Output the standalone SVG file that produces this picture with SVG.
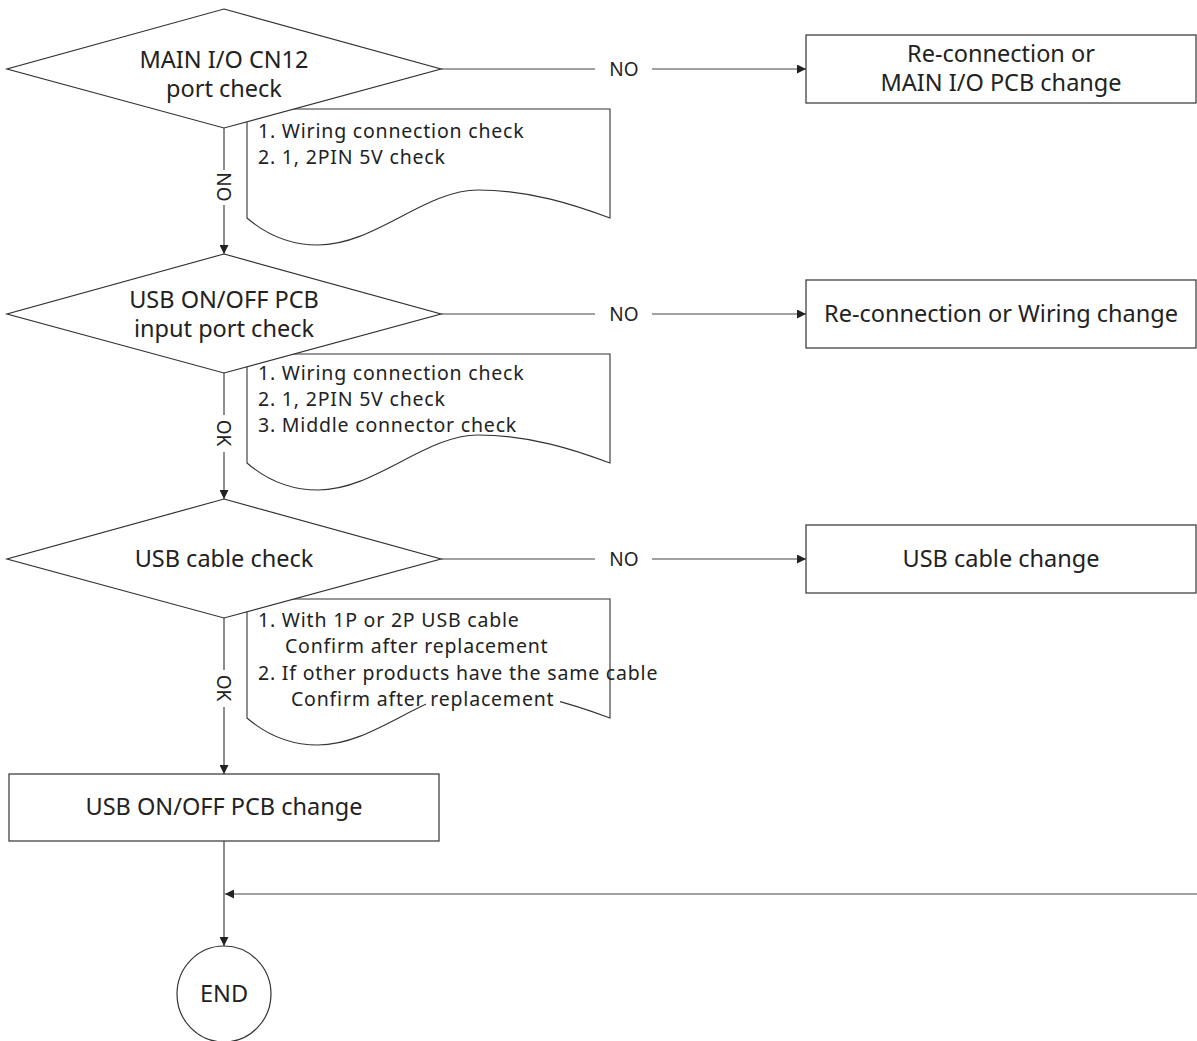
<svg xmlns="http://www.w3.org/2000/svg" width="1197" height="1041" viewBox="0 0 1197 1041">
<style>
.shape{fill:#fff;stroke:#333;stroke-width:1.2}
.doc{fill:#fff;stroke:#333;stroke-width:1.1}
.ln{fill:none;stroke:#444;stroke-width:1.2}
text{font-family:"Noto Sans","Open Sans","DejaVu Sans",sans-serif;fill:#222}
.t{font-size:23.5px;text-anchor:middle}
.d{font-size:19.5px;letter-spacing:0.8px}
.lb{font-size:19px;text-anchor:middle}
</style>
<defs>
<marker id="ah" viewBox="0 0 10 10" refX="10" refY="5" markerWidth="9" markerHeight="9" markerUnits="userSpaceOnUse" orient="auto">
<path d="M0,0 L10,5 L0,10 Z" fill="#222"/>
</marker>
</defs>
<rect width="1197" height="1041" fill="#fff"/>

<g id="connectors">
<path class="ln" d="M441,69 H595 M652,69 H806" marker-end="url(#ah)"/>
<path class="ln" d="M441,314 H595 M652,314 H806" marker-end="url(#ah)"/>
<path class="ln" d="M441,559 H595 M652,559 H806" marker-end="url(#ah)"/>
<path class="ln" d="M224,128 V170 M224,205 V254" marker-end="url(#ah)"/>
<path class="ln" d="M224,373 V415 M224,452 V499" marker-end="url(#ah)"/>
<path class="ln" d="M224,618 V670 M224,707 V774" marker-end="url(#ah)"/>
<path class="ln" d="M224,841 V946" marker-end="url(#ah)"/>
<path class="ln" d="M1197,894 H225" marker-end="url(#ah)"/>
<text class="lb" x="624" y="76">NO</text>
<text class="lb" x="624" y="321">NO</text>
<text class="lb" x="624" y="566">NO</text>
<text class="lb" transform="translate(224,187) rotate(90)" y="7">NO</text>
<text class="lb" transform="translate(224,433) rotate(90)" y="7">OK</text>
<text class="lb" transform="translate(224,688) rotate(90)" y="7">OK</text>
</g>

<g id="doc1">
<path class="doc" d="M247,218 V109 H610 V218 C575,205 530,190 478,190 C425,190 375,245 318,245 C292,245 268,236 247,218 Z"/>
<text class="d" x="258" y="138">1. Wiring connection check</text>
<text class="d" x="258" y="164">2. 1, 2PIN 5V check</text>
</g>

<g id="doc2">
<path class="doc" d="M247,463 V354 H610 V463 C575,450 530,435 478,435 C425,435 375,490 318,490 C292,490 268,481 247,463 Z"/>
<text class="d" x="258" y="380">1. Wiring connection check</text>
<text class="d" x="258" y="406">2. 1, 2PIN 5V check</text>
<text class="d" x="258" y="432">3. Middle connector check</text>
</g>

<g id="doc3">
<path class="doc" d="M247,718 V599 H610 V718 C575,705 530,690 478,690 C425,690 375,745 318,745 C292,745 268,736 247,718 Z"/>
<rect x="426" y="686" width="134" height="28" fill="#fff"/>
<text class="d" x="258" y="627">1. With 1P or 2P USB cable</text>
<text class="d" x="285" y="653">Confirm after replacement</text>
<text class="d" x="258" y="680">2. If other products have the same cable</text>
<text class="d" x="291" y="706">Confirm after replacement</text>
</g>

<g id="decision1">
<polygon class="shape" points="224,9 441,69 224,128 7,69"/>
<text class="t" x="224" y="68">MAIN I/O CN12</text>
<text class="t" x="224" y="97">port check</text>
</g>

<g id="decision2">
<polygon class="shape" points="224,254 441,314 224,373 7,314"/>
<text class="t" x="224" y="308">USB ON/OFF PCB</text>
<text class="t" x="224" y="337">input port check</text>
</g>

<g id="decision3">
<polygon class="shape" points="224,499 441,559 224,618 7,559"/>
<text class="t" x="224" y="567">USB cable check</text>
</g>

<g id="box1">
<rect class="shape" x="806" y="35" width="390" height="68"/>
<text class="t" x="1001" y="62">Re-connection or</text>
<text class="t" x="1001" y="91">MAIN I/O PCB change</text>
</g>

<g id="box2">
<rect class="shape" x="806" y="280" width="390" height="68"/>
<text class="t" x="1001" y="322">Re-connection or Wiring change</text>
</g>

<g id="box3">
<rect class="shape" x="806" y="525" width="390" height="68"/>
<text class="t" x="1001" y="567">USB cable change</text>
</g>

<g id="box4">
<rect class="shape" x="9" y="774" width="430" height="67"/>
<text class="t" x="224" y="815">USB ON/OFF PCB change</text>
</g>

<g id="end">
<ellipse class="shape" cx="224" cy="994" rx="47" ry="48"/>
<text class="t" x="224" y="1002">END</text>
</g>
</svg>
